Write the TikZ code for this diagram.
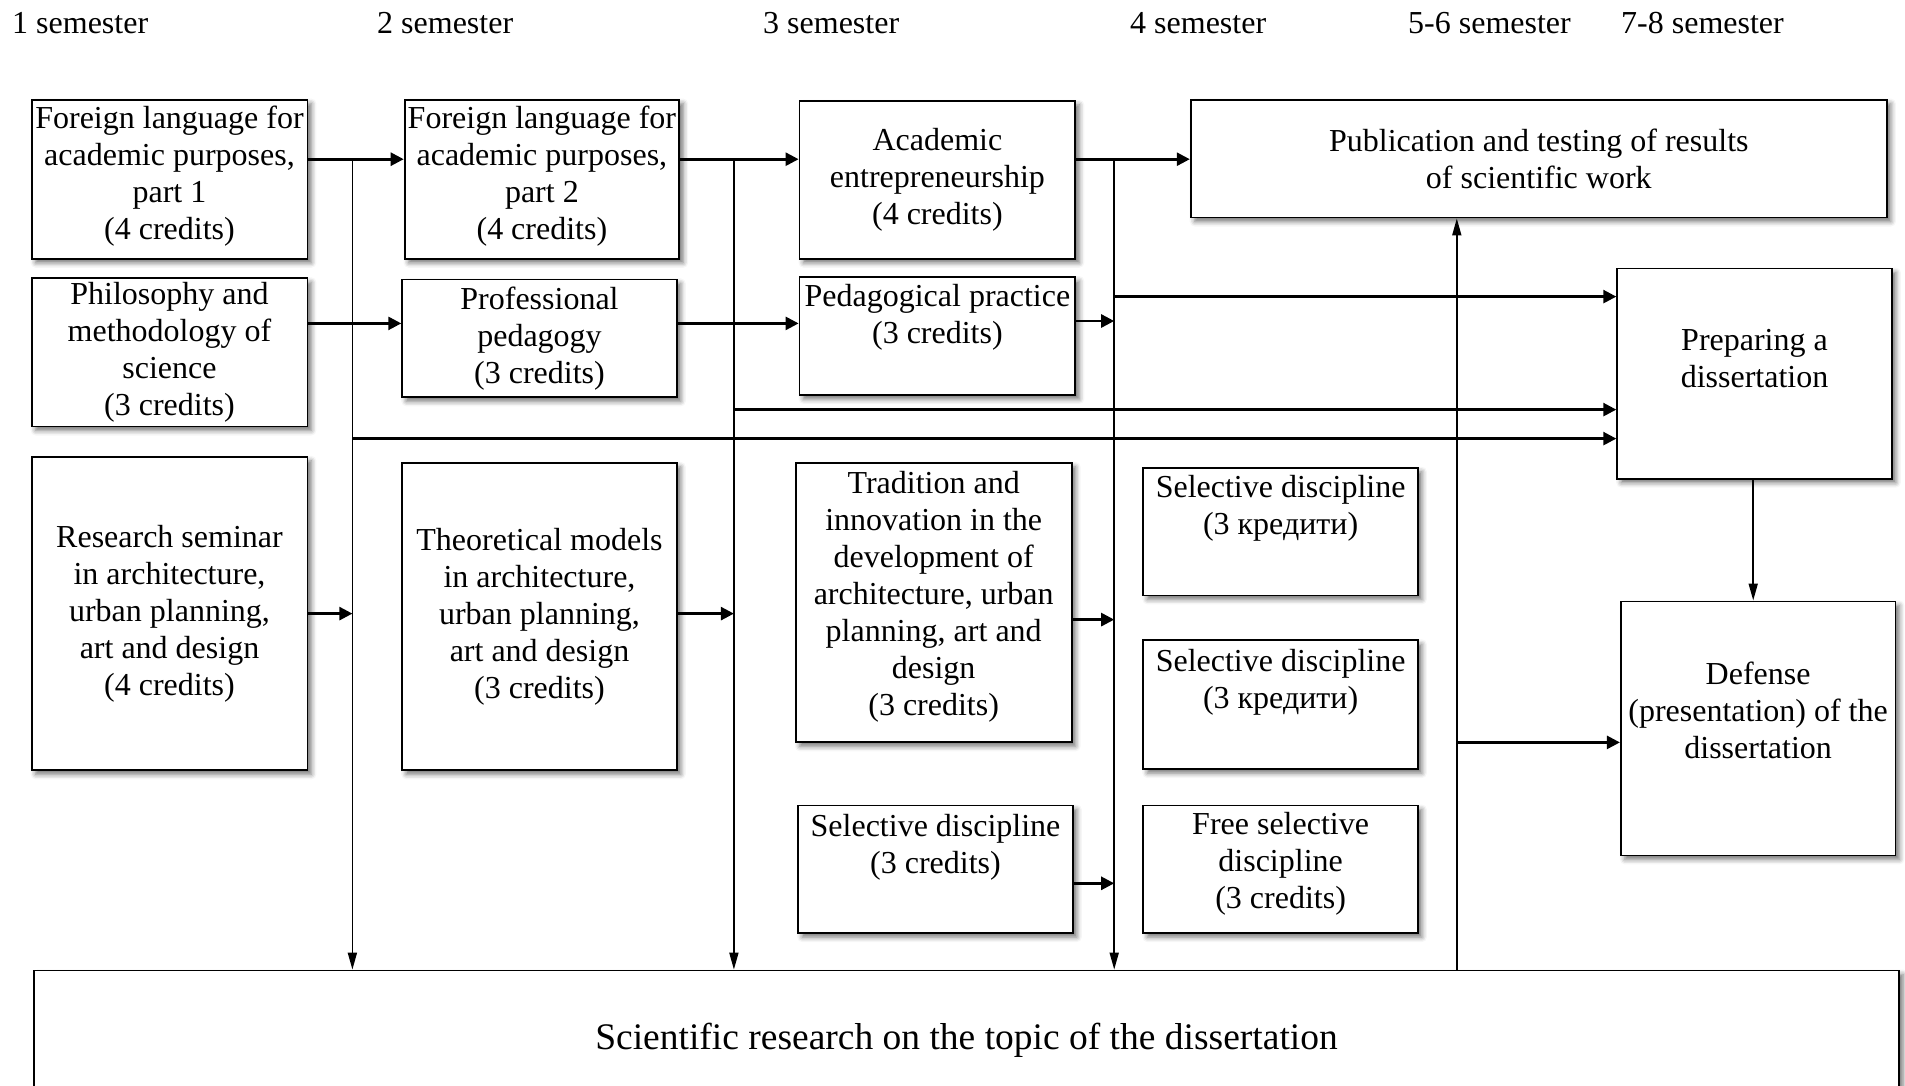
\documentclass[tikz,border=0pt]{standalone}
\usepackage{fontspec}
\setmainfont{Liberation Serif}
\usetikzlibrary{arrows.meta, shadows.blur}

\begin{document}
\begin{tikzpicture}[
	x = 1pt, y = -1pt, % one unit per pixel, y downwards
	> = {Triangle[length=13pt, width=13pt]}, % arrow head style
	font = \fontsize{32}{37}\selectfont
	]

	\tikzstyle{course}=[
	draw = black,
	line width = 1.8pt,
	fill = white,
	align = center,
	inner sep = 1pt,
	blur shadow = {shadow xshift=4pt, shadow yshift=-4pt, shadow blur radius=5pt, shadow opacity=55}
	]
	\tikzstyle{semester}=[anchor=west, inner sep=0pt]
	\tikzstyle{link}=[->, line width=2.6pt]
	\tikzstyle{busend}=[-{Triangle[length=17pt, width=9pt]}, line width=1.8pt]

	\useasboundingbox (0,0) rectangle (1905,1085);

	% semesters
	\node[semester] (sem1) at (12,23) {1 semester};
	\node[semester] (sem2) at (377,23) {2 semester};
	\node[semester] (sem3) at (763,23) {3 semester};
	\node[semester] (sem4) at (1130,23) {4 semester};
	\node[semester] (sem56) at (1408,23) {5-6 semester};
	\node[semester] (sem78) at (1621,23) {7-8 semester};

	% 1 semester
	\node[course, minimum width=275.8pt, minimum height=159.2pt, text depth=12pt] (fl1) at (169.5,179.2) {Foreign language for\\academic purposes,\\part 1\\(4 credits)};
	\node[course, minimum width=275.8pt, minimum height=148.2pt] (phil) at (169.5,352.4) {Philosophy and\\methodology of\\science\\(3 credits)};
	\node[course, minimum width=275.8pt, minimum height=313.5pt] (res) at (169.5,613.6) {Research seminar\\in architecture,\\urban planning,\\art and design\\(4 credits)};

	% 2 semester
	\node[course, minimum width=274.6pt, minimum height=159.2pt, text depth=12pt] (fl2) at (541.9,179.2) {Foreign language for\\academic purposes,\\part 2\\(4 credits)};
	\node[course, minimum width=274.6pt, minimum height=117.9pt] (prof) at (539.5,338.4) {Professional\\pedagogy\\(3 credits)};
	\node[course, minimum width=274.6pt, minimum height=307.4pt] (theo) at (539.5,616.6) {Theoretical models\\in architecture,\\urban planning,\\art and design\\(3 credits)};

	% 3 semester
	\node[course, minimum width=275.8pt, minimum height=158pt] (acad) at (937.4,179.8) {Academic\\entrepreneurship\\(4 credits)};
	\node[course, minimum width=275.8pt, minimum height=117.9pt, text depth=45pt] (pped) at (937.4,336) {Pedagogical practice\\(3 credits)};
	\node[course, minimum width=275.8pt, minimum height=279.5pt, text depth=18pt] (trad) at (933.7,602.6) {Tradition and\\innovation in the\\development of\\architecture, urban\\planning, art and\\design\\(3 credits)};
	\node[course, minimum width=274.6pt, minimum height=127.6pt, text depth=51pt] (sel3) at (935.5,869.3) {Selective discipline\\(3 credits)};

	% 4 semester
	\node[course, minimum width=274.6pt, minimum height=127.6pt, text depth=54pt] (sel1) at (1280.6,531.6) {Selective discipline\\(3 кредити)};
	\node[course, minimum width=274.6pt, minimum height=128.8pt, text depth=52pt] (sel2) at (1280.6,704.7) {Selective discipline\\(3 кредити)};
	\node[course, minimum width=274.6pt, minimum height=127.6pt, text depth=17pt] (free) at (1280.6,869.3) {Free selective\\discipline\\(3 credits)};

	% 5-8 semester
	\node[course, minimum width=696.2pt, minimum height=117.9pt] (pub) at (1538.8,158.6) {Publication and testing of results\\of scientific work};
	\node[course, minimum width=274.6pt, minimum height=210.2pt, text depth=31pt] (prep) at (1754.5,373.6) {Preparing a\\dissertation};
	\node[course, minimum width=274.6pt, minimum height=254pt, text depth=36pt] (def) at (1758.1,728.4) {Defense\\(presentation) of the\\dissertation};

	\node[course, minimum width=1865pt, minimum height=139pt, font=\fontsize{37.5}{44}\selectfont] (sci) at (966.5,1040) {Scientific research on the topic of the dissertation};

	% buses
	\coordinate (busA) at (352.4,159.2);
	\coordinate (busB) at (733.9,159.2);
	\coordinate (busC) at (1114.2,159.2);
	\coordinate (busD) at (1456.8,742.4);

	\draw[link] (fl1.east |- busA) -- (fl2.west |- busA);
	\draw[link] (fl2.east |- busB) -- (acad.west |- busB);
	\draw[link] (acad.east |- busC) -- (pub.west |- busC);

	\draw[busend] (busA) -- (busA |- sci.north);
	\draw[busend] (busB) -- (busB |- sci.north);
	\draw[busend] (busC) -- (busC |- sci.north);
	\draw[busend] (sci.north -| busD) -- (pub.south -| busD);

	\draw[link] ([yshift=29pt]phil.east) -- ([yshift=29pt]phil.east -| prof.west);
	\draw[link] ([yshift=15pt]prof.east) -- ([yshift=15pt]prof.east -| pped.west);
	\draw[link] ([yshift=15pt]pped.east) -- ([yshift=15pt]pped.east -| busC);

	\draw[link] ([yshift=77pt]prep.west -| busC) -- ([yshift=77pt]prep.west);
	\draw[link] ([yshift=-36pt]prep.west -| busB) -- ([yshift=-36pt]prep.west);
	\draw[link] ([yshift=-65pt]prep.west -| busA) -- ([yshift=-65pt]prep.west);

	\draw[link] (res.east) -- (res.east -| busA);
	\draw[link] ([yshift=3pt]theo.east) -- ([yshift=3pt]theo.east -| busB);
	\draw[link] ([yshift=-17pt]trad.east) -- ([yshift=-17pt]trad.east -| busC);
	\draw[link] ([yshift=-14pt]sel3.east) -- ([yshift=-14pt]sel3.east -| busC);

	\draw[busend] (prep.south -| 1753.2,0) -- (def.north -| 1753.2,0);
	\draw[link] (busD) -- (def.west |- busD);

\end{tikzpicture}
\end{document}
